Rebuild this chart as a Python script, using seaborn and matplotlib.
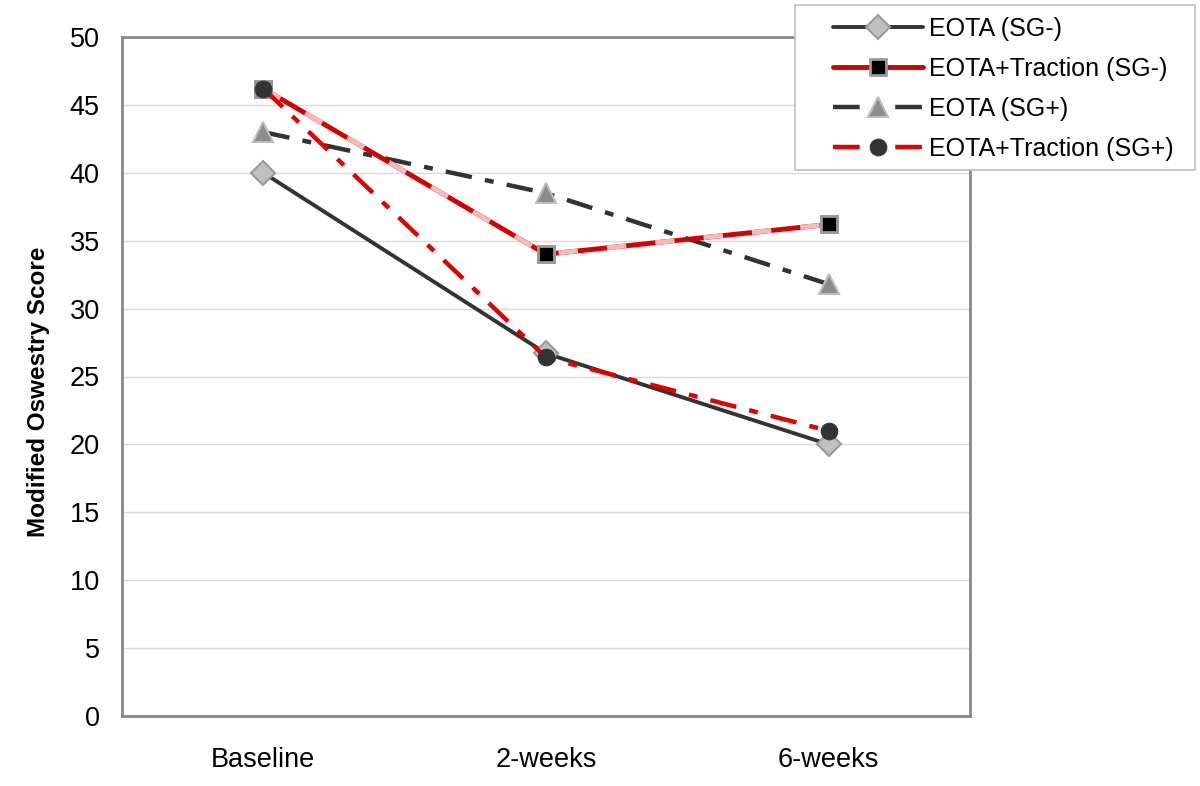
import matplotlib
matplotlib.use("Agg")
import matplotlib.pyplot as plt
from matplotlib.patches import Rectangle
import numpy as np
import seaborn as sns

## Data ##
timepoints = ["Baseline", "2-weeks", "6-weeks"]
eota_sg_neg = [40.0, 26.7, 20.0]
eota_trac_sg_neg = [46.2, 34.0, 36.2]
eota_sg_pos = [43.0, 38.5, 31.8]
eota_trac_sg_pos = [46.2, 26.4, 21.0]

sns.set_style("white")
plt.rcParams['font.family'] = ['Liberation Sans', 'DejaVu Sans']
plt.rcParams['text.color'] = 'black'
plt.rcParams['axes.labelcolor'] = 'black'
plt.rcParams['xtick.labelcolor'] = 'black'
plt.rcParams['ytick.labelcolor'] = 'black'

W, H = 1200, 786
fig = plt.figure(figsize=(12, 7.86), dpi=100)
ax = fig.add_axes([122/W, 1-716/H, (970-122)/W, (716-37)/H])

# horizontal gridlines
ax.set_ylim(0, 50)
ax.set_yticks(np.arange(0, 51, 5))
ax.yaxis.grid(True, color="#d9d9d9", lw=1)
ax.set_axisbelow(True)

x = np.arange(len(timepoints))

# EOTA (SG-)
sns.lineplot(x=x, y=eota_sg_neg, ax=ax, color="#333333", lw=2.8,
             marker="D", markersize=12, markerfacecolor="#c0c0c0",
             markeredgecolor="#9a9a9a", markeredgewidth=1.5,
             label="EOTA (SG-)", zorder=3)

# EOTA+Traction (SG-) : red with pink segments
sns.lineplot(x=x, y=eota_trac_sg_neg, ax=ax, color="#d40000", lw=3.5,
             marker="s", markersize=12, markerfacecolor="black",
             markeredgecolor="#9a9a9a", markeredgewidth=2,
             label="EOTA+Traction (SG-)", zorder=4)
ax.plot(x, eota_trac_sg_neg, color="#f7b9b9", lw=3.5, dashes=(4, 6), zorder=4)
ax.plot(x, eota_trac_sg_neg, ls="none", marker="s", markersize=12,
        markerfacecolor="black", markeredgecolor="#9a9a9a",
        markeredgewidth=2, zorder=5)

# EOTA (SG+)
sns.lineplot(x=x, y=eota_sg_pos, ax=ax, color="#333333", lw=3.2,
             dashes=False, marker="^", markersize=15,
             markerfacecolor="#8c8c8c", markeredgecolor="#bdbdbd",
             markeredgewidth=1.5, label="EOTA (SG+)", zorder=3)
ax.lines[-1].set_dashes((6, 3, 2, 3))

# EOTA+Traction (SG+)
sns.lineplot(x=x, y=eota_trac_sg_pos, ax=ax, color="#e00000", lw=3.2,
             dashes=False, marker="o", markersize=12,
             markerfacecolor="#333333", markeredgecolor="#333333",
             label="EOTA+Traction (SG+)", zorder=6)
ax.lines[-1].set_dashes((6, 3, 2, 3))

# axes
ax.set_xlim(-0.5, 2.5)
ax.set_xticks(x)
ax.set_xticklabels(timepoints, fontsize=19.5)
ax.set_xticks(np.arange(-0.5, 2.6, 1), minor=True)
ax.tick_params(axis="x", which="major", length=0, pad=22)
ax.tick_params(axis="x", which="minor", length=8, width=1, color="#cfcfcf",
               direction="out")
ax.tick_params(axis="y", length=8, width=1, color="#cfcfcf", direction="out",
               labelsize=19.5, pad=8)
for s in ax.spines.values():
    s.set_color("#888888")
    s.set_linewidth(2)
ax.set_ylabel("Modified Oswestry Score", fontsize=17.5, fontweight="bold",
              labelpad=14, y=0.478)
ax.set_xlabel("")

# legend: frame drawn by hand so it can sit wider than the entries
handles, labels = ax.get_legend_handles_labels()
ax.get_legend().remove()
fig.patches.append(Rectangle((795/W, 1-170/H), 400/W, 165/H,
                             transform=fig.transFigure, facecolor="white",
                             edgecolor="#bfbfbf", lw=1.2, zorder=10))
leg = fig.legend(handles, labels, loc="upper left",
                 bbox_to_anchor=(833/W, 1-17/H), fontsize=18,
                 frameon=False, handlelength=3.6, handletextpad=0.25,
                 labelspacing=0.64, borderpad=0, borderaxespad=0,
                 markerscale=1.0)
leg.set_zorder(11)

fig.savefig("out.png", dpi=100)
